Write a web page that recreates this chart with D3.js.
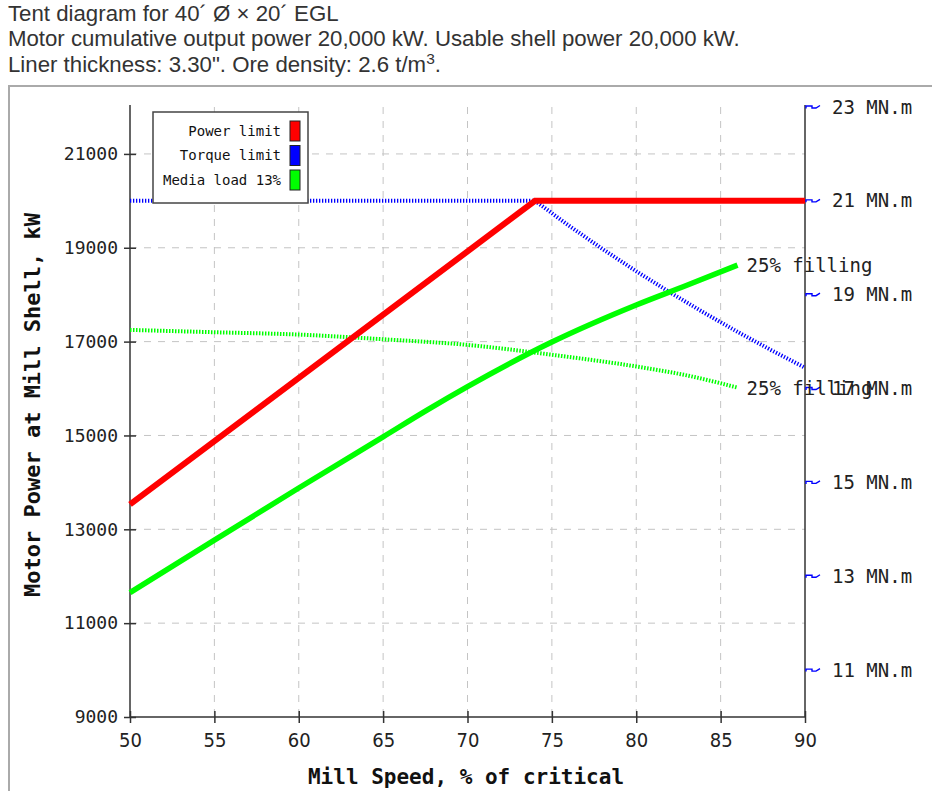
<!DOCTYPE html>
<html><head><meta charset="utf-8">
<script src="https://cdn.jsdelivr.net/npm/d3@7"></script>
<style>
body{margin:0;background:#fff;}
svg{display:block;}
</style></head>
<body>
<svg id="chart" width="932" height="791"></svg>
<script>
// ---- data ----
const titleLines = ["Tent diagram for 40\u00B4 \u00D8 \u00D7 20\u00B4 EGL",
  "Motor cumulative output power 20,000 kW. Usable shell power 20,000 kW.",
  "Liner thickness: 3.30\". Ore density: 2.6 t/m"];
const xTicks = [50,55,60,65,70,75,80,85,90];
const yTicks = [9000,11000,13000,15000,17000,19000,21000];
const torqueTicks = [11,13,15,17,19,21,23];
const powerLimitSpeed = [50,74,90];
const powerLimitKW = [13530,20000,20000];
const torqueLimitSpeed = [50,74,76,78,80,82,84,86,88,90];
const torqueLimitKW = [20000,20000,19474,18974,18500,18049,17619,17209,16818,16444];
const mediaSpeed = [50,55,60,65,67.6,70,75,80,83,86];
const mediaKW = [11650,12770,13880,14970,15540,16040,16990,17780,18200,18630];
const mediaTorqSpeed = [50,55,60,65,70,75,80,83,86];
const mediaTorqKW = [17250,17200,17150,17050,16930,16720,16470,16280,16020];
const legendItems = ["Power limit","Torque limit","Media load 13%"];
const legendColors = ["#ff0000","#0000ff","#00ff00"];

const svg = d3.select("#chart");
const mono = "'DejaVu Sans Mono', monospace";

// title
const tt = svg.append("g").attr("transform","translate(8,0) scale(1.035,1)")
  .attr("font-family","'Liberation Sans', Arial, sans-serif").attr("font-size",21.5).attr("fill","#333");
titleLines.forEach((t,i)=>{
  const txt = tt.append("text").attr("x",0).attr("y",21+i*25.5).attr("textLength", i===1 ? 707 : null).text(t);
  if(i===2){
    txt.append("tspan").attr("dy",-8).attr("font-size",15).text("3");
    txt.append("tspan").attr("dy",8).text(".");
  }
});
// frame
svg.append("path").attr("d","M9,791 L9,86 L932,86").attr("fill","none").attr("stroke","#aaa").attr("stroke-width",2);

const x = d3.scaleLinear().domain([50,90]).range([130,805]);
const y = d3.scaleLinear().domain([9000,22000]).range([717,107]);
const yR = d3.scaleLinear().domain([10,23]).range([717,107]);

// grid
const grid = svg.append("g").attr("stroke","#c4c4c4").attr("stroke-dasharray","7,7").attr("stroke-width",1);
xTicks.filter(v=>v>50&&v<90).forEach(v=>grid.append("line").attr("x1",x(v)).attr("x2",x(v)).attr("y1",y(22000)).attr("y2",y(9000)));
yTicks.filter(v=>v>9000).forEach(v=>grid.append("line").attr("x1",x(50)).attr("x2",x(90)).attr("y1",y(v)).attr("y2",y(v)));

// axes
const xAxis = svg.append("g").attr("transform","translate(0,717)")
  .call(d3.axisBottom(x).tickValues(xTicks).tickSize(6).tickPadding(9).tickSizeOuter(0));
xAxis.selectAll(".tick line").attr("y1",-6).attr("y2",6);
xAxis.selectAll("text").attr("font-family","'Liberation Sans Narrow','DejaVu Sans Condensed', sans-serif").attr("font-size",20).attr("fill","#222").attr("dy","0.75em");
const yAxis = svg.append("g").attr("transform","translate(130,0)")
  .call(d3.axisLeft(y).tickValues(yTicks).tickFormat(d3.format("d")).tickSize(6).tickPadding(6).tickSizeOuter(0));
yAxis.selectAll(".tick line").attr("x1",-6).attr("x2",6);
yAxis.selectAll("text").attr("font-family",mono).attr("font-size",18).attr("fill","#222");
[xAxis,yAxis].forEach(a=>{a.select(".domain").attr("stroke","#333").attr("stroke-width",1.5);a.selectAll(".tick line").attr("stroke","#333").attr("stroke-width",1.5);});
xAxis.select(".domain").attr("d","M130,0H805");
yAxis.select(".domain").attr("d","M0,105V717");
// right axis
svg.append("line").attr("x1",805).attr("x2",805).attr("y1",105).attr("y2",717).attr("stroke","#333").attr("stroke-width",1.5);
const rg = svg.append("g");
torqueTicks.forEach(v=>{
  const yy = yR(v);
  rg.append("path").attr("d",`M806,${yy+1.5} L806,${yy-1} L812,${yy-1} L812,${yy+1} L816,${yy+1} L820,${yy-1.5}`)
    .attr("fill","none").attr("stroke","#0000ff").attr("stroke-width",1.4);
  rg.append("text").attr("x",832).attr("y",yy).attr("dy","0.35em").attr("font-family",mono).attr("font-size",19).attr("fill","#222").text(v+" MN.m");
});

// lines
const line = d3.line().x(d=>x(d[0])).y(d=>y(d[1]));
const smooth = d3.line().x(d=>x(d[0])).y(d=>y(d[1])).curve(d3.curveMonotoneX);
const zip = (a,b)=>a.map((v,i)=>[v,b[i]]);
svg.append("path").datum(zip(mediaTorqSpeed,mediaTorqKW)).attr("d",smooth).attr("fill","none")
  .attr("stroke","#00ff00").attr("stroke-width",4).attr("stroke-dasharray","1.5,1.5");
svg.append("path").datum(zip(torqueLimitSpeed,torqueLimitKW)).attr("d",line).attr("fill","none")
  .attr("stroke","#0000ff").attr("stroke-width",4).attr("stroke-dasharray","1.3,1.7");
svg.append("path").datum(zip(mediaSpeed,mediaKW)).attr("d",smooth).attr("fill","none")
  .attr("stroke","#00ff00").attr("stroke-width",5.5).attr("stroke-linejoin","round");
svg.append("path").datum(zip(powerLimitSpeed,powerLimitKW)).attr("d",line).attr("fill","none")
  .attr("stroke","#ff0000").attr("stroke-width",6);

// curve labels
svg.append("text").attr("x",x(86)+9).attr("y",y(18630)).attr("dy","0.35em").attr("font-family",mono).attr("font-size",19).attr("fill","#222").text("25% filling");
svg.append("text").attr("x",x(86)+9).attr("y",y(16010)).attr("dy","0.35em").attr("font-family",mono).attr("font-size",19).attr("fill","#222").text("25% filling");

// legend
const lg = svg.append("g");
lg.append("rect").attr("x",153).attr("y",112).attr("width",155).attr("height",91).attr("fill","#fff").attr("stroke","#444").attr("stroke-width",1.5);
legendItems.forEach((t,i)=>{
  const yy = 131+i*24.5;
  lg.append("text").attr("x",281).attr("y",yy).attr("dy","0.35em").attr("text-anchor","end").attr("font-family",mono).attr("font-size",14).attr("fill","#111").text(t);
  lg.append("rect").attr("x",290).attr("y",yy-10).attr("width",10).attr("height",20).attr("fill",legendColors[i]).attr("stroke","#222").attr("stroke-width",1);
});

// axis titles
svg.append("text").attr("x",466).attr("y",784).attr("text-anchor","middle").attr("font-family",mono).attr("font-weight","bold").attr("font-size",21).attr("fill","#111").text("Mill Speed, % of critical");
svg.append("text").attr("transform","translate(40,405) rotate(-90)").attr("text-anchor","middle").attr("font-family",mono).attr("font-weight","bold").attr("font-size",22).attr("fill","#111").text("Motor Power at Mill Shell, kW");
</script>
</body></html>
